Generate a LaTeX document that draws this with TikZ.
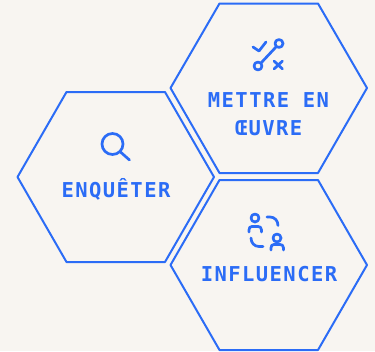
\documentclass[tikz,border=0pt]{standalone}
\usepackage{fontspec}
\newfontfamily\labelfont[LetterSpace=7]{DejaVu Sans Mono}
\definecolor{bgc}{HTML}{F8F5F1}
\definecolor{blu}{HTML}{2B6CF6}
\tikzset{
  hexa/.style={draw=blu,line width=2pt,line join=round},
  icon/.style={draw=blu,line width=2.7pt,line cap=round,line join=round},
  lab/.style={text=blu,font=\labelfont\bfseries\fontsize{20.5}{27.5}\selectfont,align=center,inner sep=0pt,anchor=center}
}
\begin{document}
\begin{tikzpicture}[x=1pt,y=-1pt]
\useasboundingbox (0,0) rectangle (375,351);
\fill[bgc] (0,0) rectangle (375,351);
\draw[hexa] (17.5,177) -- (66.5,92) -- (165,92) -- (214,177) -- (165,262) -- (66.5,262) -- cycle;
\draw[hexa] (170.5,88) -- (219.5,3.5) -- (318,3.5) -- (367,88) -- (318,173) -- (219.5,173) -- cycle;
\draw[hexa] (170.5,265) -- (219.5,180) -- (318,180) -- (367,265) -- (318,350) -- (219.5,350) -- cycle;
\node[lab] (enq) at (116,189) {ENQUÊTER};
\node[lab] (met) at (268.5,114) {METTRE EN\\ŒUVRE};
\node[lab] (inf) at (269,274) {INFLUENCER};
% loupe
\draw[icon] (112.5,144) circle (10.5);
\draw[icon] (120.5,152) -- (129.5,160);
% check / cross
\draw[icon] (253,47) -- (259,51) -- (266,42);
\draw[icon] (279,43.5) circle (4);
\draw[icon] (258,66) circle (4);
\draw[icon] (261,63) -- (276,47);
\draw[icon] (274,61) -- (282.5,69);
\draw[icon] (282.5,61) -- (274,69);
% persons
\draw[icon] (255,218) circle (4);
\draw[icon] (249,232) -- (249,230) .. controls (249,227.5) and (250,226.5) .. (252,226.5) -- (258,226.5) .. controls (260,226.5) and (261.5,227.5) .. (261.5,230) -- (261.5,232);
\draw[icon] (277,238) circle (4);
\draw[icon] (271,250) -- (271,248) .. controls (271,245.5) and (272,244.5) .. (274,244.5) -- (280,244.5) .. controls (282,244.5) and (283.5,245.5) .. (283.5,248) -- (283.5,250);
\draw[icon] (267,217) -- (270,217) .. controls (274.5,217) and (278,220.5) .. (278,225.5);
\draw[icon] (251,238) .. controls (251,243) and (254.5,246.5) .. (259,246.5) -- (263,246.5);
\end{tikzpicture}
\end{document}
